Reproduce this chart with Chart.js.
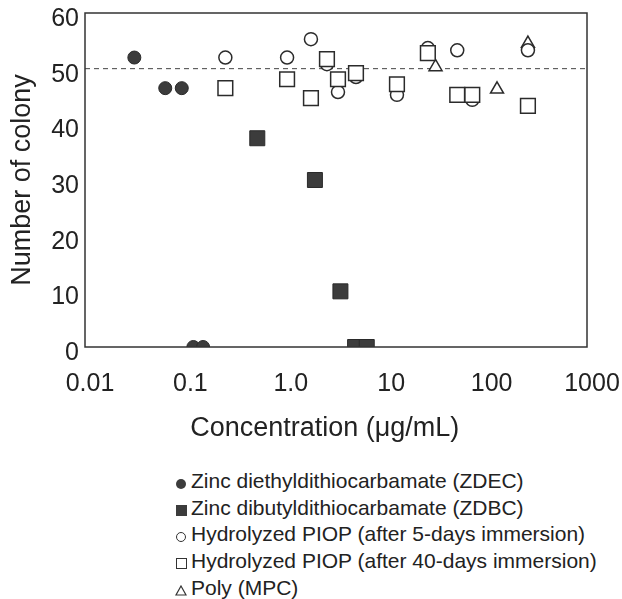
<!DOCTYPE html>
<html>
<head>
<meta charset="utf-8">
<script src="https://cdn.jsdelivr.net/npm/chart.js@4"></script>
<style>
  body { margin: 0; background: #fff; font-family: "Liberation Sans", Arial, sans-serif; }
  #wrap { position: relative; width: 622px; height: 599px; }
  #box { position: absolute; left: 0; top: 0; width: 622px; height: 450px; }
  #legend { position: absolute; left: 174px; top: 468px; color: #222; font-size: 21px; }
  #legend div { height: 26.7px; line-height: 26.7px; white-space: nowrap; }
  .sym { display: inline-block; width: 14px; margin-right: 3px; text-align: center; vertical-align: middle; }
  .sym span { display: inline-block; box-sizing: border-box; }
</style>
</head>
<body>
<div id="wrap">
  <div id="box"><canvas id="chart"></canvas></div>
  <div id="legend"></div>
</div>
<script>
// ----------------------------
// DATA
// ----------------------------
const xTickValues = [0.01, 0.1, 1, 10, 100, 1000];
const xTickLabels = ["0.01", "0.1", "1.0", "10", "100", "1000"];
const yTickValues = [0, 10, 20, 30, 40, 50, 60];
const refLine = 50;

const zdecX = [0.031, 0.063, 0.092, 0.12, 0.15];
const zdecY = [52, 46.5, 46.5, 0, 0];

const zdbcX = [0.52, 1.95, 3.5, 4.9, 6.4];
const zdbcY = [37.5, 30, 10, 0, 0];

const piop5X = [0.25, 1.03, 1.78, 2.57, 3.31, 5.0, 12.8, 26, 51, 72, 258];
const piop5Y = [52, 52, 55.3, 50.8, 45.8, 48.5, 45.3, 53.7, 53.3, 44.4, 53.3];

const piop40X = [0.25, 1.03, 1.78, 2.57, 3.31, 5.0, 12.8, 26, 51, 72, 258];
const piop40Y = [46.5, 48.1, 44.7, 51.7, 48.1, 49.2, 47.2, 52.8, 45.3, 45.3, 43.3];

const mpcX = [31, 127, 258];
const mpcY = [50.3, 46.3, 54.5];

const seriesNames = [
  "Zinc diethyldithiocarbamate (ZDEC)",
  "Zinc dibutyldithiocarbamate (ZDBC)",
  "Hydrolyzed PIOP (after 5-days immersion)",
  "Hydrolyzed PIOP (after 40-days immersion)",
  "Poly (MPC)"
];

// ----------------------------
// HELPERS
// ----------------------------
const ink = "#2b2b2b";
const font = "'Liberation Sans', Arial, sans-serif";

function pts(xs, ys) {
  return xs.map((x, i) => ({ x: x, y: ys[i] }));
}

// box around the plot + dashed line at 50
const framePlugin = {
  id: "frame",
  beforeDatasetsDraw(chart) {
    const { ctx, chartArea: a, scales } = chart;
    const y = scales.y.getPixelForValue(refLine);
    ctx.save();
    ctx.strokeStyle = "#444";
    ctx.lineWidth = 1;
    ctx.setLineDash([5, 4]);
    ctx.beginPath();
    ctx.moveTo(a.left, y);
    ctx.lineTo(a.right, y);
    ctx.stroke();
    ctx.restore();
  },
  afterDraw(chart) {
    const { ctx, chartArea: a } = chart;
    ctx.save();
    ctx.strokeStyle = "#333";
    ctx.lineWidth = 1.5;
    ctx.strokeRect(a.left, a.top, a.right - a.left, a.bottom - a.top);
    ctx.restore();
  }
};

// ----------------------------
// CHART
// ----------------------------
const ctx = document.getElementById("chart").getContext("2d");

new Chart(ctx, {
  type: "scatter",
  data: {
    datasets: [
      {
        label: seriesNames[0],
        data: pts(zdecX, zdecY),
        pointStyle: "circle",
        pointRadius: 6.5,
        backgroundColor: "#3c3c3c",
        borderColor: "#2a2a2a",
        borderWidth: 1,
        order: 0
      },
      {
        label: seriesNames[1],
        data: pts(zdbcX, zdbcY),
        pointStyle: "rect",
        pointRadius: 10.6,
        backgroundColor: "#3c3c3c",
        borderColor: "#2a2a2a",
        borderWidth: 1,
        order: 1
      },
      {
        label: seriesNames[2],
        data: pts(piop5X, piop5Y),
        pointStyle: "circle",
        pointRadius: 6.5,
        backgroundColor: "#fff",
        borderColor: ink,
        borderWidth: 1.5,
        order: 3
      },
      {
        label: seriesNames[3],
        data: pts(piop40X, piop40Y),
        pointStyle: "rect",
        pointRadius: 10.4,
        backgroundColor: "#fff",
        borderColor: ink,
        borderWidth: 1.5,
        order: 2
      },
      {
        label: seriesNames[4],
        data: pts(mpcX, mpcY),
        pointStyle: "triangle",
        pointRadius: 7.5,
        backgroundColor: "#fff",
        borderColor: ink,
        borderWidth: 1.5,
        order: 4
      }
    ]
  },
  options: {
    responsive: true,
    maintainAspectRatio: false,
    animation: false,
    layout: { padding: { left: 0, right: 35, top: 13, bottom: 0 } },
    plugins: {
      legend: { display: false },
      tooltip: { enabled: false }
    },
    scales: {
      x: {
        type: "logarithmic",
        min: 0.01,
        max: 1000,
        grid: { display: false, drawTicks: false },
        border: { display: false },
        afterBuildTicks(scale) {
          scale.ticks = xTickValues.map(v => ({ value: v }));
        },
        afterFit(scale) {
          scale.height = 103;
          scale.paddingLeft = 0;
          scale.paddingRight = 0;
        },
        ticks: {
          autoSkip: false,
          maxRotation: 0,
          padding: 22,
          labelOffset: 5,
          color: "#222",
          font: { family: font, size: 25 },
          callback: (v) => {
            const i = xTickValues.indexOf(v);
            return i >= 0 ? xTickLabels[i] : "";
          }
        },
        title: {
          display: true,
          // trailing no-break spaces nudge the centred title a little left, as in the figure
          text: "Concentration (\u03bcg/mL)\u00a0\u00a0\u00a0",
          color: "#222",
          font: { family: font, size: 27 },
          padding: { top: 4, bottom: 5 }
        }
      },
      y: {
        min: 0,
        max: 60,
        grid: { display: false, drawTicks: false },
        border: { display: false },
        afterBuildTicks(scale) {
          scale.ticks = yTickValues.map(v => ({ value: v }));
        },
        afterFit(scale) {
          scale.width = 85;
          scale.paddingTop = 0;
          scale.paddingBottom = 0;
        },
        ticks: {
          padding: 6,
          labelOffset: 6,
          color: "#222",
          font: { family: font, size: 25 }
        },
        title: {
          display: true,
          text: "Number of colony",
          color: "#222",
          font: { family: font, size: 27 },
          padding: { top: 6, bottom: 4 }
        }
      }
    }
  },
  plugins: [framePlugin]
});

// ----------------------------
// LEGEND (html, below the chart)
// ----------------------------
const legendSymbols = [
  '<span style="width:10px;height:10px;border-radius:50%;background:#3c3c3c"></span>',
  '<span style="width:11px;height:11px;background:#3c3c3c"></span>',
  '<span style="width:10px;height:10px;border-radius:50%;border:1.2px solid #333"></span>',
  '<span style="width:11px;height:11px;border:1.2px solid #333"></span>',
  '<svg width="12" height="11" viewBox="0 0 12 11"><polygon points="6,1 11,10 1,10" fill="none" stroke="#333" stroke-width="1.2"/></svg>'
];

document.getElementById("legend").innerHTML = seriesNames
  .map((name, i) => `<div><span class="sym">${legendSymbols[i]}</span>${name}</div>`)
  .join("");
</script>
</body>
</html>
